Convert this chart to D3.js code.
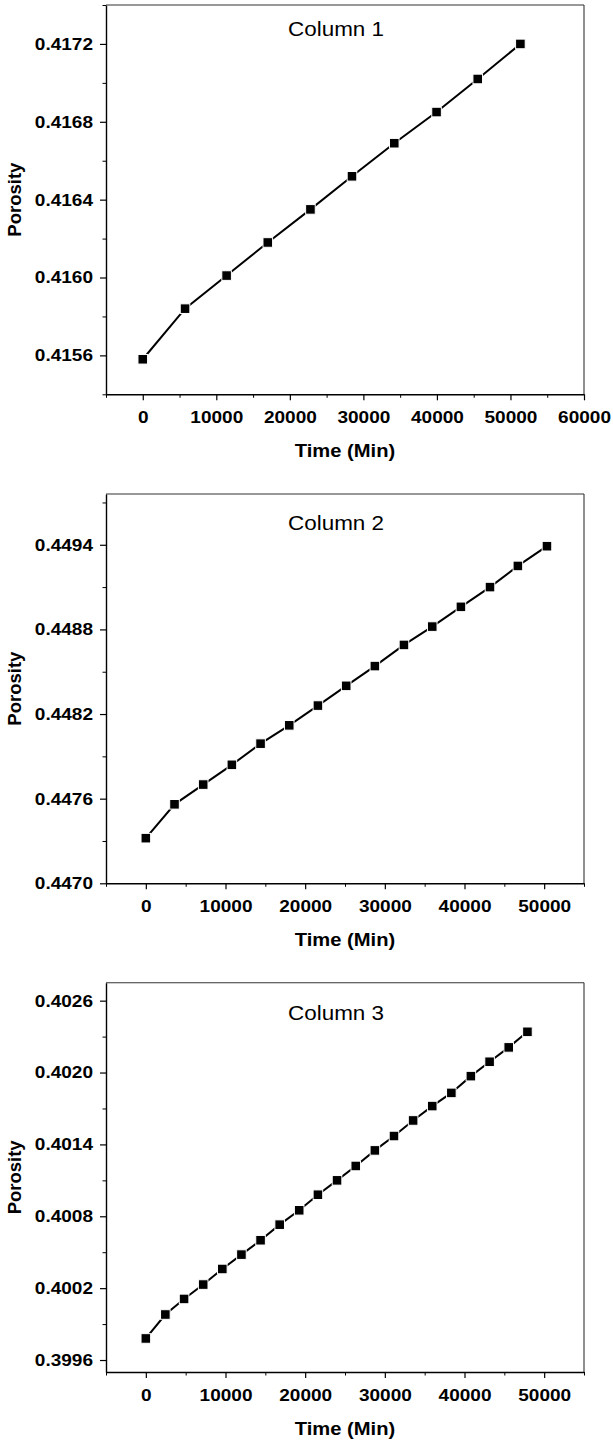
<!DOCTYPE html>
<html>
<head>
<meta charset="utf-8">
<script src="https://cdn.jsdelivr.net/npm/d3@7"></script>
<style>
  body { margin: 0; background: #fff; }
  svg { display: block; font-family: "Liberation Sans", Arial, sans-serif; }
</style>
</head>
<body>
<script>
// data
var time1 = [0, 5750, 11400, 17000, 22800, 28450, 34200, 39950, 45550, 51350];
var por1 = [0.41558, 0.41584, 0.41601, 0.41618, 0.41635, 0.41652, 0.41669, 0.41685, 0.41702, 0.41720];

var time2 = [0, 3600, 7200, 10800, 14400, 18000, 21600, 25150, 28750, 32400, 35950, 39550, 43200, 46700, 50350];
var por2 = [0.44732, 0.44756, 0.44770, 0.44784, 0.44799, 0.44812, 0.44826, 0.44840, 0.44854, 0.44869, 0.44882, 0.44896, 0.44910, 0.44925, 0.44939];

var time3 = [0, 2450, 4800, 7200, 9600, 12000, 14400, 16800, 19250, 21600, 24000, 26350, 28750, 31150, 33550, 35950, 38350, 40800, 43150, 45550, 47900];
var por3 = [0.39978, 0.39998, 0.40011, 0.40023, 0.40036, 0.40048, 0.40060, 0.40073, 0.40085, 0.40098, 0.40110, 0.40122, 0.40135, 0.40147, 0.40160, 0.40172, 0.40183, 0.40197, 0.40209, 0.40221, 0.40234];

var titles = ["Column 1", "Column 2", "Column 3"];

var xTicks1 = [0, 10000, 20000, 30000, 40000, 50000, 60000];
var xTicks23 = [0, 10000, 20000, 30000, 40000, 50000];
var yTicks1 = [0.4156, 0.4160, 0.4164, 0.4168, 0.4172];
var yTicks2 = [0.4470, 0.4476, 0.4482, 0.4488, 0.4494];
var yTicks3 = [0.3996, 0.4002, 0.4008, 0.4014, 0.4020, 0.4026];

var W = 613, H = 1441;
var left = 106, right = 584, ph = 389.3;
var stretch = 1.12;  // the source picture is a bit wider than tall

var panels = [
  {t: time1, p: por1, top: 5, xd: [-5000, 60000], yd: [0.4154, 0.4174], xt: xTicks1, yt: yTicks1, ystep: 0.0002, titleY: 31},
  {t: time2, p: por2, top: 494, xd: [-5000, 55000], yd: [0.4470, 0.44976], xt: xTicks23, yt: yTicks2, ystep: 0.0003, titleY: 36},
  {t: time3, p: por3, top: 982.7, xd: [-5000, 55000], yd: [0.3995, 0.40275], xt: xTicks23, yt: yTicks3, ystep: 0.0003, titleY: 37}
];

var svg = d3.select("body").append("svg")
  .attr("width", W)
  .attr("height", H);

panels.forEach(function(pn, i) {
  var bottom = pn.top + ph;
  var x = d3.scaleLinear().domain(pn.xd).range([left, right]);
  var y = d3.scaleLinear().domain(pn.yd).range([bottom, pn.top]);
  var g = svg.append("g");

  // minor ticks
  var xMinor = d3.range(pn.xd[0], pn.xd[1] + 1, 5000).filter(function(v) { return pn.xt.indexOf(v) < 0; });
  var yMinor = [];
  for (var v = pn.yt[0] - pn.ystep * 2; v <= pn.yd[1] + 1e-9; v += pn.ystep) {
    var r = Math.round(v * 1e5) / 1e5;
    if (r >= pn.yd[0] - 1e-9 && pn.yt.every(function(m) { return Math.abs(m - r) > 1e-7; })) yMinor.push(r);
  }

  // box (top/right)
  g.append("line").attr("x1", left).attr("x2", right).attr("y1", pn.top).attr("y2", pn.top)
    .attr("stroke", "#333").attr("stroke-width", 1.1);
  g.append("line").attr("x1", right).attr("x2", right).attr("y1", pn.top).attr("y2", bottom)
    .attr("stroke", "#333").attr("stroke-width", 1.1);

  g.append("g").attr("transform", "translate(0," + bottom + ")")
    .call(d3.axisBottom(x).tickValues(xMinor).tickSize(3.5).tickFormat("").tickSizeOuter(0))
    .call(function(a) { a.select(".domain").remove(); });
  g.append("g").attr("transform", "translate(" + left + ",0)")
    .call(d3.axisLeft(y).tickValues(yMinor).tickSize(3.5).tickFormat("").tickSizeOuter(0))
    .call(function(a) { a.select(".domain").remove(); });

  var xa = g.append("g").attr("transform", "translate(0," + bottom + ")")
    .call(d3.axisBottom(x).tickValues(pn.xt).tickSize(6).tickPadding(11).tickSizeOuter(0).tickFormat(d3.format("d")));
  var ya = g.append("g").attr("transform", "translate(" + left + ",0)")
    .call(d3.axisLeft(y).tickValues(pn.yt).tickSize(6).tickPadding(7).tickSizeOuter(0).tickFormat(d3.format(".4f")));

  [xa, ya].forEach(function(a) {
    a.selectAll("line").attr("stroke", "#000").attr("stroke-width", 1.2);
    a.select(".domain").attr("stroke", "#000").attr("stroke-width", 1.4);
    a.selectAll("text").attr("fill", "#000").style("font-size", "17px").style("font-weight", "bold")
      .style("font-family", "'Liberation Sans', Arial, sans-serif");
  });
  g.selectAll("g.tick line").attr("stroke", "#000");
  xa.selectAll("text").attr("transform", "scale(" + stretch + ",1)");
  ya.selectAll("text").attr("x", -13 / stretch).attr("transform", "scale(" + stretch + ",1)");

  // line + markers
  var pts = pn.t.map(function(d, k) { return [d, pn.p[k]]; });
  g.append("path").datum(pts)
    .attr("fill", "none").attr("stroke", "#000").attr("stroke-width", 2)
    .attr("d", d3.line().x(function(d) { return x(d[0]); }).y(function(d) { return y(d[1]); }));
  var ms = 9.6;
  g.selectAll("rect.pt").data(pts).enter().append("rect")
    .attr("class", "pt")
    .attr("x", function(d) { return x(d[0]) - ms / 2; })
    .attr("y", function(d) { return y(d[1]) - ms / 2; })
    .attr("width", ms).attr("height", ms)
    .attr("fill", "#000").attr("stroke", "#fff").attr("stroke-width", 1);

  // title
  var cx = 336;
  g.append("text")
    .attr("transform", "translate(" + cx + "," + (pn.top + pn.titleY) + ") scale(1.15,1)")
    .attr("text-anchor", "middle")
    .style("font-size", "19.5px")
    .text(titles[i]);

  // axis labels
  g.append("text")
    .attr("transform", "translate(" + ((left + right) / 2) + "," + (bottom + 63) + ") scale(" + stretch + ",1)")
    .attr("text-anchor", "middle")
    .style("font-size", "18px").style("font-weight", "bold")
    .text("Time (Min)");
  g.append("text")
    .attr("transform", "translate(21," + ((pn.top + bottom) / 2) + ") rotate(-90)")
    .attr("text-anchor", "middle")
    .style("font-size", "18.5px").style("font-weight", "bold")
    .text("Porosity");
});
</script>
</body>
</html>
